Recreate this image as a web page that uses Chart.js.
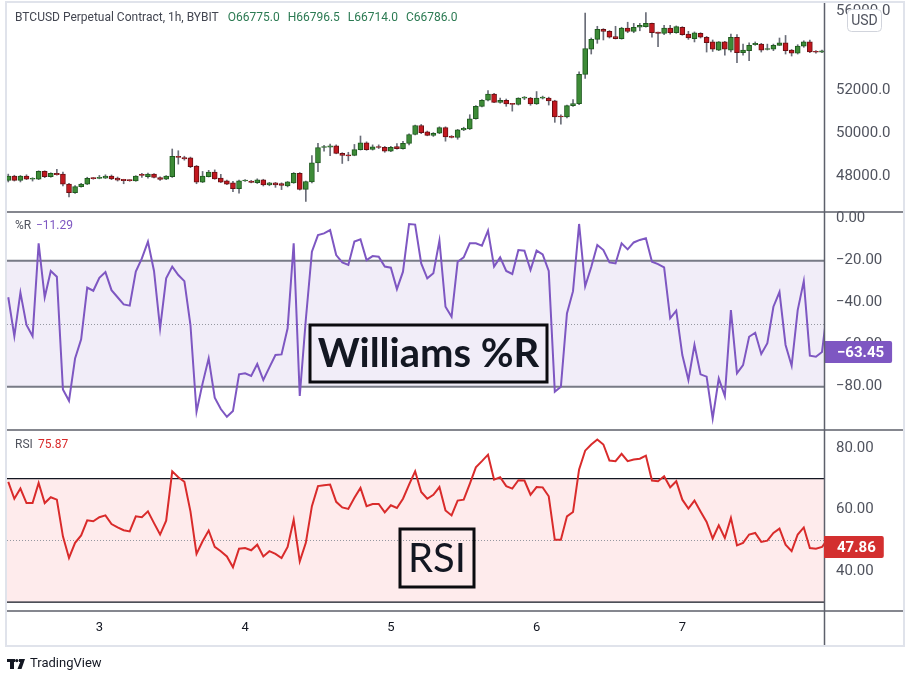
<!DOCTYPE html>
<html>
<head>
<meta charset="utf-8">
<script src="https://cdn.jsdelivr.net/npm/chart.js@4.4.1/dist/chart.umd.min.js"></script>
<style>
  html, body { margin: 0; padding: 0; background: #fff; }
  #wrap { position: relative; width: 908px; height: 675px; }
  #wrap canvas { position: absolute; left: 0; top: 0; }
</style>
</head>
<body>
<div id="wrap">
  <canvas id="priceChart" width="908" height="675"></canvas>
  <canvas id="wrChart" width="908" height="675"></canvas>
  <canvas id="rsiChart" width="908" height="675"></canvas>
</div>
<script>
// 1h bars, from day 2 09:00 to day 7 23:00 (135 bars)
const opens = [47830,48020,47830,48020,47880,47880,48230,47990,48140,48110,47660,47280,47550,47660,47930,47920,47930,48020,47930,47880,
  47840,47810,48070,47990,48110,47960,47880,47990,48920,48860,48850,48470,47750,48000,48200,47930,47810,47720,47460,47800,
  47800,47730,47850,47630,47720,47690,47580,47720,48140,47430,47760,48620,49320,49330,49390,49050,48980,48960,49220,49530,
  49230,49340,49330,49150,49360,49260,49510,49920,50340,50050,49880,49980,50240,49840,49780,50130,50180,50660,51250,51540,
  51840,51440,51540,51370,51340,51640,51650,51370,51640,51650,51510,50760,50740,51280,51380,52800,54050,54550,55070,54960,
  54690,54590,55130,54960,55170,55200,55370,54920,54860,55130,54890,55170,54820,54590,54860,54660,54420,54010,54420,54010,
  54660,53880,53980,54280,54310,54040,54050,54250,54380,54010,53850,54210,54420,53920,53900];
const highs = [48110,48060,48050,48080,47950,48260,48260,48170,48320,48200,47700,47600,47700,47970,47960,48050,48080,48070,47980,47880,
  47860,48040,48140,48160,48130,47990,48040,49250,49170,48920,48880,48500,48230,48280,48300,48100,47840,47790,47840,47860,
  47830,47900,47880,47740,47740,47720,47780,48180,48180,47800,48950,49510,49420,49480,49440,49080,49100,49460,49850,49580,
  49440,49440,49370,49370,49500,49600,49950,50360,50390,50080,50010,50280,50280,49870,50160,50260,50850,51280,51570,52010,
  51870,51640,51600,51390,51660,51720,51680,51960,51740,51690,51540,50850,51310,51570,52920,55900,54620,55220,55100,55000,
  55220,55170,55430,55370,55370,55930,55380,54920,55270,55270,55240,55200,54960,54930,54890,54700,54520,54440,54450,54820,
  54790,54310,54380,54420,54350,54310,54310,54620,54750,54040,54280,54480,54520,53980,54010];
const lows = [47760,47800,47760,47860,47800,47860,47950,47970,48060,47580,47100,47250,47530,47640,47880,47900,47910,47860,47800,47680,
  47790,47790,47960,47930,47940,47830,47860,47960,48560,48740,48400,47680,47730,47980,47880,47730,47640,47330,47260,47780,
  47720,47690,47580,47590,47520,47420,47540,47700,47400,46900,47720,48220,49150,48950,49030,48590,48710,48940,49200,49190,
  49200,49270,49100,49130,49240,49240,49440,49900,49960,49860,49830,49960,49610,49760,49700,50100,50150,50640,51220,51510,
  51420,51400,51250,51020,51310,51570,51300,51340,51600,51310,50490,50400,50700,51250,51330,52600,53810,54350,54520,54620,
  54570,54560,54890,54890,54990,55180,54660,54180,54790,54820,54860,54760,54550,54420,54620,53910,53940,53980,53750,53910,
  53380,53750,53480,54250,53910,54010,53980,54240,53810,53710,53810,54150,53880,53850,53880];
const closes = [48020,47830,48020,47880,47890,48230,47990,48140,48080,47660,47280,47550,47660,47920,47910,47960,48020,47900,47840,47820,
  47820,48020,48050,48110,47960,47870,48020,48920,48860,48800,48440,47750,48020,48200,47900,47750,47660,47460,47810,47820,
  47740,47850,47630,47720,47630,47600,47760,48140,47430,47780,48620,49320,49340,49390,49050,48960,48930,49220,49530,49220,
  49350,49320,49150,49330,49260,49510,49920,50340,50010,49880,49980,50240,49810,49780,50140,50210,50660,51250,51540,51840,
  51440,51540,51370,51340,51640,51650,51370,51650,51660,51510,50750,50740,51280,51380,52800,54090,54550,55070,54960,54660,
  54590,55130,54960,55170,55270,55370,54890,54860,55130,54890,55200,54790,54620,54890,54660,54380,54050,54420,54050,54660,
  53880,54010,54250,54350,54010,54050,54250,54380,53980,53850,54210,54420,53910,53900,53970];

// Williams %R (14) and RSI (14); one extra bar past the right edge
const wrValues = [-37.4,-55.9,-35.2,-50.6,-55.9,-11.7,-37.4,-24.9,-27.6,-81.3,-86.7,-66.5,-57.4,-32.8,-34.3,-28.1,-25.4,-34.0,-37.4,-40.8,
  -41.4,-25.2,-18.9,-10.9,-24.9,-52.2,-28.4,-22.8,-26.8,-29.7,-50.6,-91.9,-78.4,-66.5,-85.2,-90.6,-94.3,-91.6,-74.1,-73.6,
  -74.9,-69.2,-76.8,-70.8,-64.9,-64.6,-52.2,-11.7,-84.4,-48.0,-15.7,-7.8,-7.0,-5.4,-17.3,-20.8,-22.0,-10.9,-9.8,-19.7,
  -17.8,-18.1,-22.8,-23.3,-33.5,-25.2,-2.5,-2.8,-21.3,-28.4,-26.0,-10.5,-41.9,-46.7,-20.5,-18.4,-11.7,-11.7,-12.8,-5.7,
  -22.8,-18.4,-24.9,-26.3,-14.9,-15.2,-24.4,-15.2,-17.0,-24.9,-82.4,-80.0,-45.1,-34.5,-2.5,-32.2,-23.0,-12.5,-14.9,-20.8,
  -21.3,-11.7,-14.6,-11.3,-10.1,-9.3,-20.5,-21.6,-23.2,-47.4,-43.8,-64.9,-76.8,-60.1,-74.1,-75.2,-95.1,-76.0,-84.4,-43.5,
  -73.6,-69.7,-56.2,-54.3,-64.4,-59.3,-41.9,-34.9,-60.1,-70.0,-43.5,-29.7,-65.2,-65.7,-63.45,-40.0];
const rsiValues = [69.0,63.5,66.8,62.1,62.1,68.6,62.1,64.0,63.2,51.3,44.3,49.2,51.6,56.5,56.2,57.5,58.1,55.3,54.2,53.3,
  52.9,57.8,57.5,59.4,55.6,51.9,56.4,72.4,70.5,69.0,59.4,45.6,49.7,53.2,47.9,46.5,44.8,41.3,47.3,47.5,
  46.8,48.6,44.8,46.5,45.6,44.3,47.9,56.7,43.2,49.2,61.1,67.6,67.9,68.1,62.5,60.7,60.2,63.8,67.0,61.1,
  61.8,61.8,59.1,61.4,60.5,63.5,68.1,72.4,65.7,63.5,64.8,67.3,59.7,58.1,62.9,63.2,68.3,73.7,75.7,77.8,
  69.7,70.5,67.6,66.8,69.5,69.4,64.8,67.3,67.2,64.3,50.2,50.2,57.8,59.2,73.0,79.1,81.1,82.7,81.1,75.9,
  75.7,78.1,75.7,76.2,76.5,77.5,69.4,69.2,70.8,67.2,69.2,63.2,60.3,62.9,59.4,56.0,50.6,54.9,50.8,57.3,
  48.4,49.2,51.9,52.4,49.5,49.9,52.4,53.8,48.6,46.5,51.9,54.2,47.5,47.3,47.86,50.6];

const dayTicks = [15, 39, 63, 87, 111];
const dayLabels = ['3', '4', '5', '6', '7'];
const priceTicks = [48000, 50000, 52000, 56000];
const wrTicks = [0, -20, -40, -60, -80];
const rsiTicks = [80, 60, 40];
const wrBand = [-20, -80, -50];
const rsiBand = [70, 30, 50];

const titleText = 'BTCUSD Perpetual Contract, 1h, BYBIT';
const ohlcText = ['O66775.0', 'H66796.5', 'L66714.0', 'C66786.0'];
const wrHover = '\u221211.29';
const rsiHover = '75.87';

const LAST = 134;
const AREA_LEFT = 7;
const AXIS_W = 80;
const PAD_RIGHT = 4;
const FRAME_H = 675;

Chart.defaults.font.family = 'Roboto, "Noto Sans", sans-serif';

const minus = v => (v < 0 ? '\u2212' : '') + Math.abs(v).toFixed(2);

function xScale(show) {
  return {
    type: 'linear', min: -0.21, max: 134.33, bounds: 'data', offset: false, display: show,
    grid: { display: false, drawTicks: false },
    border: { display: false },
    afterBuildTicks: s => { s.ticks = dayTicks.map(v => ({ value: v })); },
    afterFit: s => {
      s.height = show ? 34 : 0;
      s.paddingLeft = 0; s.paddingRight = 0;
    },
    ticks: { autoSkip: false, maxRotation: 0, padding: 9, color: '#131722', font: { size: 13 },
      callback: (v, i) => dayLabels[i] }
  };
}

function yAxis(type, min, max, vals, fmt) {
  return {
    type, position: 'right', min, max, bounds: 'data', beginAtZero: false,
    grid: { display: false, drawTicks: false },
    border: { display: false },
    afterBuildTicks: s => { s.ticks = vals.map(v => ({ value: v })); },
    afterFit: s => { s.width = AXIS_W; s.paddingTop = 0; s.paddingBottom = 0; },
    ticks: { autoSkip: false, padding: 12, color: '#50535e', font: { size: 15 }, callback: fmt }
  };
}

function pad(top, bottom) {
  return { left: AREA_LEFT, right: PAD_RIGHT, top: top, bottom: bottom };
}

const baseOpts = {
  responsive: false, animation: false, devicePixelRatio: 1,
  events: [],
  plugins: { legend: { display: false }, tooltip: { enabled: false } }
};

// band + middle dotted line behind an indicator
function drawBand(chart, band, fill, lineColor, lineW) {
  const { ctx, chartArea: a, scales: { y } } = chart;
  const t = y.getPixelForValue(band[0]), b = y.getPixelForValue(band[1]), m = y.getPixelForValue(band[2]);
  ctx.save();
  ctx.fillStyle = fill;
  ctx.fillRect(a.left, t, a.right - a.left, b - t);
  ctx.strokeStyle = lineColor;
  ctx.lineWidth = lineW;
  ctx.beginPath();
  ctx.moveTo(a.left, t); ctx.lineTo(a.right, t);
  ctx.moveTo(a.left, b); ctx.lineTo(a.right, b);
  ctx.stroke();
  ctx.strokeStyle = '#9598a1';
  ctx.lineWidth = 1;
  ctx.setLineDash([1, 2]);
  ctx.beginPath();
  ctx.moveTo(a.left, Math.round(m) + 0.5); ctx.lineTo(a.right, Math.round(m) + 0.5);
  ctx.stroke();
  ctx.restore();
}

function valueTag(chart, value, color, text) {
  const { ctx, chartArea: a, scales: { y } } = chart;
  const yy = y.getPixelForValue(value);
  ctx.save();
  ctx.font = 'bold 15px Roboto';
  const w = ctx.measureText(text).width;
  ctx.fillStyle = color;
  ctx.beginPath();
  ctx.roundRect(a.right, yy - 11, w + 21, 22, [0, 2, 2, 0]);
  ctx.fill();
  ctx.fillStyle = '#ffffff';
  ctx.textBaseline = 'middle';
  ctx.fillText(text, a.right + 13, yy + 1);
  ctx.restore();
}

function labelBox(ctx, x, y, w, h, text, font) {
  ctx.save();
  ctx.strokeStyle = '#0b0b0f';
  ctx.lineWidth = 3;
  ctx.strokeRect(x, y, w, h);
  ctx.fillStyle = '#131722';
  ctx.font = font;
  ctx.textAlign = 'center';
  ctx.textBaseline = 'middle';
  ctx.fillText(text, x + w / 2, y + h / 2 + 1);
  ctx.restore();
}

// ---------- price pane ----------
const upFill = '#3d8b37', upEdge = '#1f5a1f', downFill = '#c2181f', downEdge = '#6b1014';
const isUp = opens.map((o, i) => closes[i] >= o);

const priceDecor = {
  id: 'priceDecor',
  afterDraw(chart) {
    const ctx = chart.ctx;
    ctx.save();
    ctx.font = '12px Roboto';
    ctx.textBaseline = 'middle';
    ctx.fillStyle = '#434651';
    ctx.fillText(titleText, 15, 18);
    let x = 15 + ctx.measureText(titleText).width + 9;
    ctx.fillStyle = '#2b7a52';
    ohlcText.forEach(t => {
      ctx.fillText(t, x, 18);
      x += ctx.measureText(t).width + 8;
    });
    // currency badge
    ctx.fillStyle = '#ffffff';
    ctx.strokeStyle = '#d1d4dc';
    ctx.lineWidth = 1;
    ctx.beginPath();
    ctx.roundRect(847.5, 9.5, 34, 22, 4);
    ctx.fill();
    ctx.stroke();
    ctx.fillStyle = '#50535e';
    ctx.font = '14px Roboto';
    ctx.textAlign = 'center';
    ctx.fillText('USD', 864.5, 21);
    ctx.restore();
  }
};

new Chart(document.getElementById('priceChart'), {
  type: 'bar',
  data: {
    datasets: [
      {
        label: 'body',
        data: opens.map((o, i) => ({ x: i, y: [o, closes[i]] })),
        backgroundColor: isUp.map(u => u ? upFill : downFill),
        borderColor: isUp.map(u => u ? upEdge : downEdge),
        borderWidth: 1, borderSkipped: false, barThickness: 5, minBarLength: 1,
        grouped: false, order: 0, clip: 0
      },
      {
        label: 'wick',
        data: lows.map((l, i) => ({ x: i, y: [l, highs[i]] })),
        backgroundColor: '#6a6d78',
        borderWidth: 0, barThickness: 1, grouped: false, order: 1, clip: 0
      }
    ]
  },
  options: Object.assign({}, baseOpts, {
    layout: { padding: pad(8, FRAME_H - 212) },
    scales: {
      x: xScale(false),
      y: yAxis('logarithmic', 46440, 56170, priceTicks, v => Number(v).toFixed(1))
    }
  }),
  plugins: [priceDecor]
});

// ---------- Williams %R pane ----------
const wrDecor = {
  id: 'wrDecor',
  beforeDatasetsDraw(chart) {
    drawBand(chart, wrBand, 'rgba(126, 87, 194, 0.11)', '#787b86', 2);
  },
  afterDraw(chart) {
    const ctx = chart.ctx;
    ctx.save();
    ctx.font = '12px Roboto';
    ctx.textBaseline = 'middle';
    ctx.fillStyle = '#50535e';
    ctx.fillText('%R', 15, 226);
    ctx.fillStyle = '#7e57c2';
    ctx.fillText(wrHover, 36, 226);
    ctx.restore();
    valueTag(chart, wrValues[LAST], '#7e57c2', minus(wrValues[LAST]));
    labelBox(ctx, 310, 325, 237, 57, 'Williams %R', 'bold 40px Lato');
  }
};

new Chart(document.getElementById('wrChart'), {
  type: 'line',
  data: {
    datasets: [{
      label: '%R',
      data: wrValues.map((v, i) => ({ x: i, y: v })),
      borderColor: '#7e57c2', borderWidth: 2, pointRadius: 0, tension: 0, clip: 0
    }]
  },
  options: Object.assign({}, baseOpts, {
    layout: { padding: pad(212, FRAME_H - 430) },
    scales: {
      x: xScale(false),
      y: yAxis('linear', -100.6, 3.2, wrTicks, v => minus(v))
    }
  }),
  plugins: [wrDecor]
});

// ---------- RSI pane + frame ----------
const rsiDecor = {
  id: 'rsiDecor',
  beforeDatasetsDraw(chart) {
    drawBand(chart, rsiBand, 'rgba(242, 54, 69, 0.1)', '#131722', 1.3);
  },
  afterDraw(chart) {
    const ctx = chart.ctx;
    const a = chart.chartArea;
    ctx.save();
    ctx.font = '12px Roboto';
    ctx.textBaseline = 'middle';
    ctx.fillStyle = '#50535e';
    ctx.fillText('RSI', 15, 445);
    ctx.fillStyle = '#d92b2b';
    ctx.fillText(rsiHover, 38, 445);

    // pane separators and price axis line
    ctx.strokeStyle = '#5d606b';
    ctx.lineWidth = 1.5;
    ctx.beginPath();
    [212, 430, 611].forEach(y => { ctx.moveTo(AREA_LEFT, y); ctx.lineTo(904, y); });
    ctx.moveTo(a.right + 0.5, 3);
    ctx.lineTo(a.right + 0.5, 645);
    ctx.stroke();

    // outer frame
    ctx.strokeStyle = '#e0e3eb';
    ctx.lineWidth = 2;
    ctx.strokeRect(6, 2, 898, 644);

    // logo
    ctx.fillStyle = '#131722';
    ctx.fillRect(7, 659, 8, 3);
    ctx.fillRect(10, 659, 4, 10);
    ctx.beginPath();
    ctx.arc(16.8, 660.6, 1.7, 0, Math.PI * 2);
    ctx.fill();
    ctx.beginPath();
    ctx.moveTo(19, 659); ctx.lineTo(25, 659); ctx.lineTo(21.5, 669); ctx.lineTo(17.5, 669); ctx.lineTo(20.2, 662); ctx.lineTo(19, 662);
    ctx.closePath();
    ctx.fill();
    ctx.font = '13px Roboto';
    ctx.fillText('TradingView', 30, 664);
    ctx.restore();

    valueTag(chart, rsiValues[LAST], '#d32f2f', rsiValues[LAST].toFixed(2));
    labelBox(ctx, 400, 529, 74, 58, 'RSI', '40px Lato');
  }
};

new Chart(document.getElementById('rsiChart'), {
  type: 'line',
  data: {
    datasets: [{
      label: 'RSI',
      data: rsiValues.map((v, i) => ({ x: i, y: v })),
      borderColor: '#d92b2b', borderWidth: 2, pointRadius: 0, tension: 0, clip: 0
    }]
  },
  options: Object.assign({}, baseOpts, {
    layout: { padding: pad(430, FRAME_H - 611 - 34) },
    scales: {
      x: xScale(true),
      y: yAxis('linear', 27.1, 85.8, rsiTicks, v => v.toFixed(2))
    }
  }),
  plugins: [rsiDecor]
});
</script>
</body>
</html>
